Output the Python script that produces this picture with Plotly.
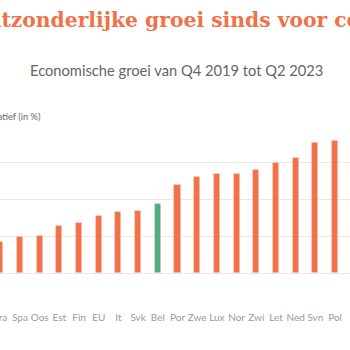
import plotly.graph_objects as go

landen = ["Fra", "Spa", "Oos", "Est", "Fin", "EU", "It", "Svk", "Bel", "Por",
          "Zwe", "Lux", "Nor", "Zwi", "Let", "Ned", "Svn", "Pol"]
groei = [1.67, 1.96, 2.03, 2.58, 2.72, 3.12, 3.30, 3.40, 3.76, 4.77,
         5.21, 5.41, 5.41, 5.61, 5.97, 6.28, 7.08, 7.21]
ORANJE = "#EF7249"
GROEN = "#4DAE86"
kleuren = [GROEN if l == "Bel" else ORANJE for l in landen]

W, H = 350, 350
fig = go.Figure(go.Bar(
    x=list(range(len(landen))), y=groei,
    marker=dict(color=kleuren, line=dict(color="rgba(255,200,190,0.6)", width=0.8)),
    width=0.31,
))

px_per_cat = 19.69
x0 = -0.3 / px_per_cat
fig.update_layout(
    width=W, height=H,
    margin=dict(l=0, r=0, t=126, b=40, autoexpand=False),
    paper_bgcolor="white", plot_bgcolor="white",
    showlegend=False,
    bargap=0,
    xaxis=dict(
        range=[x0, x0 + W / px_per_cat],
        tickmode="array", tickvals=list(range(len(landen))), ticktext=landen,
        showgrid=False, zeroline=False, showline=False, ticks="",
        ticklabeloverflow="allow", automargin=False,
        tickfont=dict(family="Lato", size=10, color="#9a9a9a"),
    ),
    yaxis=dict(
        range=[-2, 8], dtick=2, showticklabels=False, automargin=False,
        showgrid=True, gridcolor="#e9e9e9", gridwidth=1,
        zeroline=False, showline=False, ticks="",
    ),
    annotations=[
        dict(text="<b>Uitzonderlijke groei sinds voor covid</b>", xref="paper", yref="paper",
             x=-26 / W, y=1 + (126 - 20) / 184, xanchor="left", yanchor="middle",
             showarrow=False, font=dict(family="DejaVu Serif", size=20.3, color=ORANJE)),
        dict(text="Economische groei van Q4 2019 tot Q2 2023", xref="paper", yref="paper",
             x=176 / W, y=1 + (126 - 70) / 184, xanchor="center", yanchor="middle",
             showarrow=False, font=dict(family="Lato", size=14.7, color="#666666")),
        dict(text="Relatief (in %)", xref="paper", yref="paper",
             x=43 / W, y=1 + (126 - 117) / 184, xanchor="right", yanchor="middle",
             showarrow=False, font=dict(family="Lato", size=9.3, color="#666666")),
    ],
)
fig.write_html("out.html")
